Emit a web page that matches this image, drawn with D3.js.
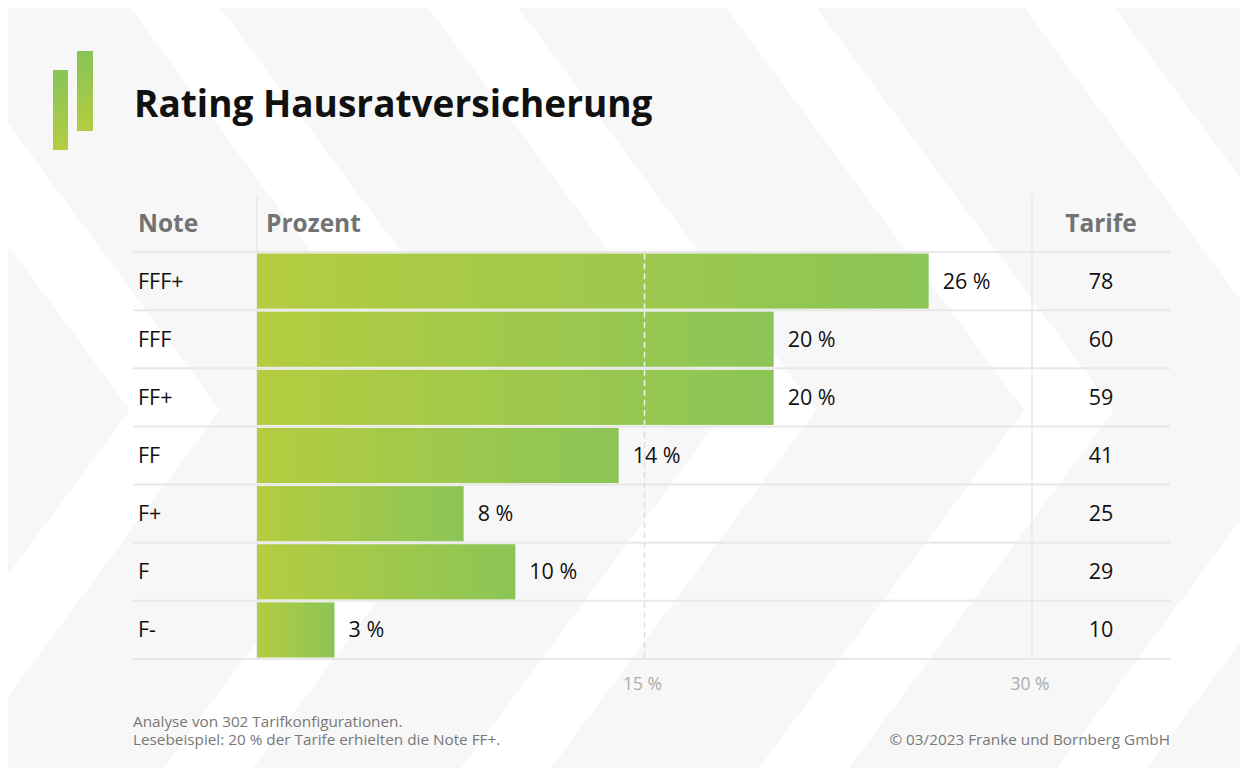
<!DOCTYPE html>
<html><head><meta charset="utf-8">
<script src="https://cdn.jsdelivr.net/npm/d3@7"></script>
<style>body{margin:0;background:#fff;} svg{display:block;font-family:'Open Sans',sans-serif;}</style>
</head><body><svg id="c" width="1247" height="774"></svg>
<script>
const notes = ["FFF+","FFF","FF+","FF","F+","F","F-"];
const percents = [26,20,20,14,8,10,3];
const tarife = [78,60,59,41,25,29,10];
const xTicks = [15,30];
const title = "Rating Hausratversicherung";
const headers = ["Note","Prozent","Tarife"];
const footnotes = ["Analyse von 302 Tarifkonfigurationen.","Lesebeispiel: 20 % der Tarife erhielten die Note FF+."];
const copyright = "© 03/2023 Franke und Bornberg GmbH";

(function(){
const svg = d3.select("#c");
const defs = svg.append("defs");
const gBar = defs.append("linearGradient").attr("id","gBar").attr("x1",0).attr("x2",1).attr("y1",0).attr("y2",0);
gBar.append("stop").attr("offset","0%").attr("stop-color","#b4cc40");
gBar.append("stop").attr("offset","100%").attr("stop-color","#8bc557");
const gLogo = defs.append("linearGradient").attr("id","gLogo").attr("x1",0).attr("x2",0).attr("y1",0).attr("y2",1);
gLogo.append("stop").attr("offset","0%").attr("stop-color","#88c457");
gLogo.append("stop").attr("offset","100%").attr("stop-color","#b3cd41");
defs.append("clipPath").attr("id","panelClip").append("rect").attr("x",8).attr("y",8).attr("width",1232).attr("height",760);

// background panel with chevrons
svg.append("rect").attr("x",8).attr("y",8).attr("width",1232).attr("height",760).attr("fill","#f7f7f7");
const bg = svg.append("g").attr("clip-path","url(#panelClip)");
const tipY = 410, s = 0.74, bw = 90, yTop = 8, yBot = 768;
[-168,130,428,726,1024,1322].forEach(x0 => {
  const pts = [[x0 - s*(tipY-yTop), yTop],[x0 - s*(tipY-yTop)+bw, yTop],[x0+bw, tipY],[x0 - s*(yBot-tipY)+bw, yBot],[x0 - s*(yBot-tipY), yBot],[x0, tipY]];
  bg.append("polygon").attr("points", pts.map(p=>p.join(",")).join(" ")).attr("fill","#ffffff");
});

// logo
svg.append("rect").attr("x",53).attr("y",70).attr("width",15).attr("height",80).attr("fill","url(#gLogo)");
svg.append("rect").attr("x",77).attr("y",51).attr("width",16).attr("height",80).attr("fill","url(#gLogo)");

svg.append("text").attr("x",134).attr("y",117).attr("font-size",37).attr("font-weight",700).attr("fill","#111").text(title);

const x = d3.scaleLinear().domain([0,30]).range([257,1032]);
const y = d3.scaleBand().domain(notes).range([252,659]).padding(0);
const grid = "#e8e8e8";

// vertical lines
[x(0), x(30)].forEach(vx => svg.append("line").attr("x1",vx).attr("x2",vx).attr("y1",195).attr("y2",659).attr("stroke",grid).attr("stroke-width",1.5));
// horizontal lines
const hl = notes.map(n=>y(n)).concat([y.range()[1]]);
svg.selectAll(".hl").data(hl).join("line").attr("x1",133).attr("x2",1170).attr("y1",d=>d).attr("y2",d=>d).attr("stroke",grid).attr("stroke-width",2);

// dashed gridline at 15
svg.append("line").attr("x1",x(15)).attr("x2",x(15)).attr("y1",252).attr("y2",659).attr("stroke","#dddddd").attr("stroke-width",1.5).attr("stroke-dasharray","6,4");

// bars
const data = notes.map((n,i)=>({n, p:percents[i], t:tarife[i]}));
svg.selectAll(".bar").data(data).join("rect")
  .attr("x",x(0)).attr("y",d=>y(d.n)+1.5).attr("width",d=>x(d.p)-x(0)).attr("height",y.bandwidth()-3)
  .attr("fill","url(#gBar)");
// white dashes over bars
svg.selectAll(".wd").data(data.filter(d=>d.p>15)).join("line")
  .attr("x1",x(15)).attr("x2",x(15)).attr("y1",d=>y(d.n)+1.5).attr("y2",d=>y(d.n)+y.bandwidth()-1.5)
  .attr("stroke","#ffffff").attr("stroke-opacity",0.85).attr("stroke-width",1.5).attr("stroke-dasharray","6,4");

// labels
const fs = 21.5;
svg.selectAll(".vl").data(data).join("text")
  .attr("x",d=>x(d.p)+14).attr("y",d=>y(d.n)+y.bandwidth()/2+7.5).attr("font-size",fs).attr("fill","#111").text(d=>d.p+" %");
svg.selectAll(".nl").data(data).join("text")
  .attr("x",138).attr("y",d=>y(d.n)+y.bandwidth()/2+7.5).attr("font-size",fs).attr("fill","#111").text(d=>d.n);
svg.selectAll(".tl").data(data).join("text")
  .attr("x",1101).attr("y",d=>y(d.n)+y.bandwidth()/2+7.5).attr("font-size",fs).attr("fill","#111").attr("text-anchor","middle").text(d=>d.t);

// headers
const hdr = svg.append("g").attr("font-size",24.5).attr("font-weight",700).attr("fill","#737373");
hdr.append("text").attr("x",138).attr("y",232).text(headers[0]);
hdr.append("text").attr("x",266).attr("y",232).text(headers[1]);
hdr.append("text").attr("x",1101).attr("y",232).attr("text-anchor","middle").text(headers[2]);

// tick labels
svg.selectAll(".tk").data(xTicks).join("text")
  .attr("x",d=>x(d)-2).attr("y",690).attr("font-size",17.5).attr("fill","#acacac").attr("text-anchor","middle").text(d=>d+" %");

// footer
svg.selectAll(".fn").data(footnotes).join("text")
  .attr("x",133).attr("y",(d,i)=>727+i*18).attr("font-size",15.3).attr("fill","#777").text(d=>d);
svg.append("text").attr("x",1170).attr("y",745).attr("font-size",15.3).attr("fill","#777").attr("text-anchor","end").text(copyright);
})();
</script></body></html>
